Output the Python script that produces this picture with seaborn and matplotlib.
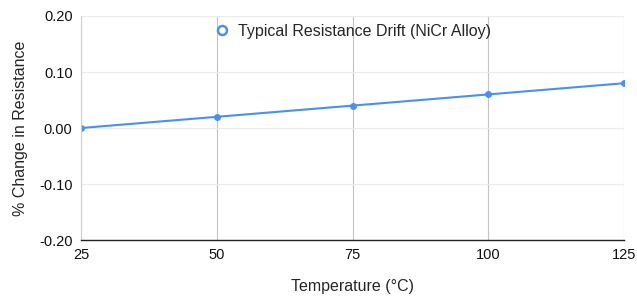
# Typical resistance drift chart for NiCr alloy

import matplotlib
matplotlib.use("Agg")
import matplotlib.pyplot as plt
from matplotlib.lines import Line2D
import pandas as pd
import seaborn as sns

temperature = [25, 50, 75, 100, 125]
pct_change = [0.00, 0.02, 0.04, 0.06, 0.08]
series_name = "Typical Resistance Drift (NiCr Alloy)"
y_ticks = [-0.20, -0.10, 0.00, 0.10, 0.20]

blue = "#4a90f2"

sns.set_style("white")
plt.rcParams['font.family'] = ['Liberation Sans', 'DejaVu Sans']

df = pd.DataFrame({"Temperature": temperature, "Change": pct_change})

fig, ax = plt.subplots(figsize=(6.37, 2.96), dpi=100)
fig.subplots_adjust(left=0.127, right=0.98, top=0.946, bottom=0.189)

sns.lineplot(data=df, x="Temperature", y="Change", ax=ax, color=blue,
             linewidth=1.5, marker="o", markersize=5, markeredgewidth=0)

ax.set_xlim(temperature[0], temperature[-1])
ax.set_ylim(y_ticks[0], y_ticks[-1])
ax.set_xticks(temperature)
ax.set_yticks(y_ticks)
ax.set_yticklabels([f"{v:.2f}" for v in y_ticks])
ax.tick_params(length=0, labelsize=10.5, colors="#111111", pad=6)

# vertical grid darker, horizontal grid very light
ax.xaxis.grid(True, color="#c4c4c4", linewidth=0.8)
ax.yaxis.grid(True, color="#ebebeb", linewidth=0.8)
ax.set_axisbelow(True)

for s in ["top", "right"]:
    ax.spines[s].set_visible(False)
ax.spines["left"].set_color("#cfcfcf")
ax.spines["left"].set_linewidth(0.8)
ax.spines["bottom"].set_color("#222222")
ax.spines["bottom"].set_linewidth(1.0)

ax.set_xlabel("Temperature (°C)", fontsize=11.5, labelpad=12)
ax.set_ylabel("% Change in Resistance", fontsize=11.5, labelpad=8)

handle = Line2D([], [], linestyle="none", marker="o", markersize=6.5,
                markerfacecolor="white", markeredgecolor=blue, markeredgewidth=1.8)
ax.legend([handle], [series_name], loc="upper center", bbox_to_anchor=(0.5, 1.03),
          frameon=False, fontsize=11.5, handletextpad=0.5, handlelength=1.0)

plt.savefig("out.png", dpi=100)
